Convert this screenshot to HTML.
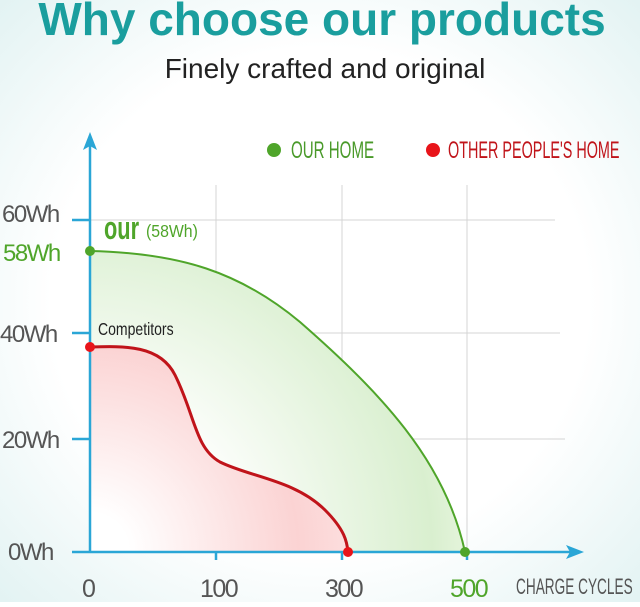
<!DOCTYPE html>
<html><head><style>
body{margin:0;width:640px;height:602px;overflow:hidden;background:#fff;font-family:"Liberation Sans",sans-serif}
</style></head><body>
<svg width="640" height="602" viewBox="0 0 640 602" xmlns="http://www.w3.org/2000/svg">
<defs>
<radialGradient id="bg" cx="0.5" cy="0.5" r="0.7"><stop offset="0.6" stop-color="#fff"/><stop offset="1" stop-color="#e3f3f3"/></radialGradient>
<radialGradient id="gg" cx="90" cy="552" r="380" gradientUnits="userSpaceOnUse"><stop offset="0.35" stop-color="#fff"/><stop offset="0.9" stop-color="#d9efcf"/><stop offset="1" stop-color="#e6f5dd"/></radialGradient>
<radialGradient id="rg" cx="90" cy="552" r="260" gradientUnits="userSpaceOnUse"><stop offset="0.15" stop-color="#fff"/><stop offset="0.8" stop-color="#fbd3d3"/><stop offset="1" stop-color="#fcdede"/></radialGradient>
</defs>
<rect width="640" height="602" fill="url(#bg)"/>
<text x="322" y="35" text-anchor="middle" font-size="46" font-weight="bold" fill="#1a9e9e">Why choose our products</text>
<text x="325" y="78" text-anchor="middle" font-size="28" fill="#222" font-weight="300">Finely crafted and original</text>
<g stroke="#d4d4d4" stroke-width="1">
<line x1="90" y1="220" x2="555" y2="220"/><line x1="90" y1="333" x2="560" y2="333"/><line x1="90" y1="439" x2="565" y2="439"/>
<line x1="216" y1="185" x2="216" y2="552"/><line x1="342" y1="185" x2="342" y2="552"/><line x1="467" y1="185" x2="467" y2="552"/>
</g>
<path d="M90 251 C180 253 240 272 300 322 C380 392 445 460 465 552 L90 552 Z" fill="url(#gg)"/>
<path d="M90 251 C180 253 240 272 300 322 C380 392 445 460 465 552" fill="none" stroke="#4fa52a" stroke-width="2"/>
<path d="M90 347 C125 346 160 345 175 375 C195 415 195 448 220 462 C250 477 295 480 325 510 C345 530 347 542 348 552 L90 552 Z" fill="url(#rg)"/>
<path d="M90 347 C125 346 160 345 175 375 C195 415 195 448 220 462 C250 477 295 480 325 510 C345 530 347 542 348 552" fill="none" stroke="#c0141a" stroke-width="3"/>
<g stroke="#2aa6d6" stroke-width="2.5" fill="#2aa6d6">
<line x1="90" y1="140" x2="90" y2="552"/><line x1="72" y1="552" x2="575" y2="552"/>
<line x1="72" y1="220" x2="90" y2="220"/><line x1="72" y1="333" x2="90" y2="333"/><line x1="72" y1="439" x2="90" y2="439"/>
<line x1="216" y1="552" x2="216" y2="560"/><line x1="342" y1="552" x2="342" y2="560"/><line x1="467" y1="552" x2="467" y2="560"/>
<path d="M90 132 L83 150 L90 146 L97 150 Z" stroke="none"/>
<path d="M584 552 L566 545 L570 552 L566 559 Z" stroke="none"/>
</g>
<circle cx="90" cy="251" r="5" fill="#4fa52a"/><circle cx="90" cy="347" r="5" fill="#e8141a"/>
<circle cx="348" cy="552" r="5" fill="#e8141a"/><circle cx="465" cy="552" r="5" fill="#4fa52a"/>
<g font-size="24" fill="#555" letter-spacing="-1.5">
<text x="2" y="222">60Wh</text><text x="0" y="342">40Wh</text><text x="2" y="448">20Wh</text><text x="8" y="560">0Wh</text>
<text x="3" y="261" fill="#4fa52a">58Wh</text>
</g>
<g font-size="25" fill="#555" letter-spacing="-1.5">
<text x="82" y="597">0</text><text x="200" y="597">100</text><text x="325" y="597">300</text><text x="450" y="597" fill="#4fa52a">500</text>
</g>
<text x="516" y="594" font-size="22" fill="#555" transform="translate(516 0) scale(0.62 1) translate(-516 0)">CHARGE  CYCLES</text>
<text x="104" y="239" font-size="32" font-weight="bold" fill="#4fa52a" transform="translate(104 0) scale(0.68 1) translate(-104 0)">our</text>
<text x="146" y="237" font-size="18" fill="#4fa52a" transform="translate(146 0) scale(0.88 1) translate(-146 0)">(58Wh)</text>
<text x="98" y="335" font-size="18" fill="#222" transform="translate(98 0) scale(0.78 1) translate(-98 0)">Competitors</text>
<circle cx="274" cy="150" r="7" fill="#4fa52a"/>
<text x="291" y="158" font-size="24" fill="#4a9a2a" transform="translate(291 0) scale(0.63 1) translate(-291 0)">OUR HOME</text>
<circle cx="433" cy="150" r="7" fill="#e8141a"/>
<text x="448" y="158" font-size="24" fill="#c0141a" transform="translate(448 0) scale(0.6 1) translate(-448 0)">OTHER PEOPLE'S HOME</text>
</svg>
</body></html>
